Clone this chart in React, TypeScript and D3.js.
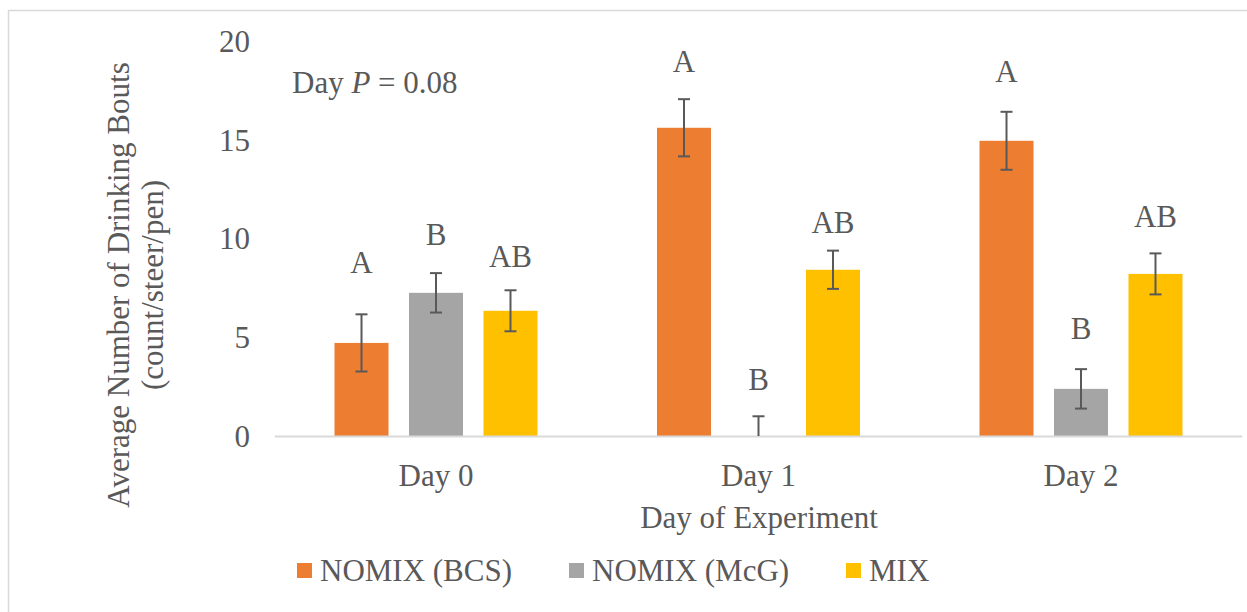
import React from "react";
import * as d3 from "d3";

const categories = ["Day 0", "Day 1", "Day 2"];
const seriesNames = ["NOMIX (BCS)", "NOMIX (McG)", "MIX"];
const seriesColors = ["#ED7D31", "#A5A5A5", "#FFC000"];
const bcsValues = [4.72, 15.63, 14.97];
const mcgValues = [7.26, 0, 2.39];
const mixValues = [6.35, 8.43, 8.22];
const bcsErrors = [1.45, 1.45, 1.47];
const mcgErrors = [1.0, 1.0, 1.0];
const mixErrors = [1.04, 0.97, 1.04];
const bcsLetters = ["A", "A", "A"];
const mcgLetters = ["B", "B", "B"];
const mixLetters = ["AB", "AB", "AB"];
const bcsLetterY = [8.8, 19.0, 18.5];
const mcgLetterY = [10.2, 2.85, 5.45];
const mixLetterY = [9.1, 10.85, 11.15];
const yTicks = [0, 5, 10, 15, 20];

const W = 1247;
const H = 612;
const FONT = "'Liberation Serif', 'Times New Roman', serif";
const TXT = "#595959";
const FS = 31;

export default function App() {
  const x = d3.scaleBand<string>().domain(categories).range([274.75, 1242.25]).padding(0);
  const inner = d3
    .scaleBand<number>()
    .domain([0, 1, 2])
    .range([-101.5, 101.5])
    .paddingInner(0.275)
    .paddingOuter(0);
  const y = d3.scaleLinear().domain([0, 20]).range([436, 41.6]);

  const values = [bcsValues, mcgValues, mixValues];
  const errors = [bcsErrors, mcgErrors, mixErrors];
  const letters = [bcsLetters, mcgLetters, mixLetters];
  const letterY = [bcsLetterY, mcgLetterY, mixLetterY];

  const legendX = [297, 569, 846];

  return (
    <svg
      width={W}
      height={H}
      style={{ position: "absolute", left: 0, top: 0, background: "#fff" }}
      fontFamily={FONT}
    >
      <defs>
        <clipPath id="plotClip">
          <rect x={274} y={0} width={970} height={y(0)} />
        </clipPath>
      </defs>
      <rect x={0} y={0} width={W} height={H} fill="#fff" />
      <path d={`M8.5,${H} L8.5,10.5 L${W},10.5`} fill="none" stroke="#D9D9D9" strokeWidth={1.5} />

      {/* y tick labels */}
      {yTicks.map((t) => (
        <text
          key={t}
          x={250}
          y={y(t)}
          textAnchor="end"
          dominantBaseline="central"
          fontSize={FS}
          fill={TXT}
        >
          {t}
        </text>
      ))}

      {/* bars */}
      {categories.map((c, ci) => {
        const cx = (x(c) as number) + x.bandwidth() / 2;
        return (
          <g key={c}>
            {values.map((vals, si) => (
              <rect
                key={si}
                x={cx + (inner(si) as number)}
                y={y(vals[ci])}
                width={inner.bandwidth()}
                height={y(0) - y(vals[ci])}
                fill={seriesColors[si]}
              />
            ))}
          </g>
        );
      })}

      {/* axis line */}
      <line x1={274.75} x2={1242.25} y1={y(0) + 0.5} y2={y(0) + 0.5} stroke="#D9D9D9" strokeWidth={2} />

      {/* error bars */}
      <g clipPath="url(#plotClip)">
        {categories.map((c, ci) => {
          const cx = (x(c) as number) + x.bandwidth() / 2;
          return values.map((vals, si) => {
            const bx = cx + (inner(si) as number) + inner.bandwidth() / 2;
            const top = y(vals[ci] + errors[si][ci]);
            const bot = y(vals[ci] - errors[si][ci]);
            return (
              <g key={`${ci}-${si}`} stroke="#595959" strokeWidth={2}>
                <line x1={bx} x2={bx} y1={top} y2={bot} />
                <line x1={bx - 6} x2={bx + 6} y1={top} y2={top} />
                <line x1={bx - 6} x2={bx + 6} y1={bot} y2={bot} />
              </g>
            );
          });
        })}
      </g>

      {/* letters */}
      {categories.map((c, ci) => {
        const cx = (x(c) as number) + x.bandwidth() / 2;
        return letters.map((ls, si) => (
          <text
            key={`l${ci}-${si}`}
            x={cx + (inner(si) as number) + inner.bandwidth() / 2}
            y={y(letterY[si][ci])}
            textAnchor="middle"
            dominantBaseline="central"
            fontSize={FS}
            fill={TXT}
          >
            {ls[ci]}
          </text>
        ));
      })}

      {/* x tick labels */}
      {categories.map((c) => (
        <text
          key={c}
          x={(x(c) as number) + x.bandwidth() / 2}
          y={475}
          textAnchor="middle"
          dominantBaseline="central"
          fontSize={FS}
          fill={TXT}
        >
          {c}
        </text>
      ))}

      {/* x axis title */}
      <text x={759} y={517} textAnchor="middle" dominantBaseline="central" fontSize={FS} fill={TXT}>
        Day of Experiment
      </text>

      {/* y axis title */}
      <g transform="translate(118,285) rotate(-90)">
        <text x={0} y={0} textAnchor="middle" dominantBaseline="central" fontSize={FS} fill={TXT}>
          Average Number of Drinking Bouts
        </text>
        <text x={0} y={34} textAnchor="middle" dominantBaseline="central" fontSize={FS} fill={TXT}>
          (count/steer/pen)
        </text>
      </g>

      {/* annotation */}
      <text x={292} y={82} dominantBaseline="central" fontSize={FS} fill={TXT}>
        Day <tspan fontStyle="italic">P</tspan> = 0.08
      </text>

      {/* legend */}
      {seriesNames.map((n, i) => (
        <g key={n}>
          <rect x={legendX[i]} y={563} width={15} height={15} fill={seriesColors[i]} />
          <text
            x={legendX[i] + 23}
            y={570}
            dominantBaseline="central"
            fontSize={FS}
            fill={TXT}
          >
            {n}
          </text>
        </g>
      ))}
    </svg>
  );
}
